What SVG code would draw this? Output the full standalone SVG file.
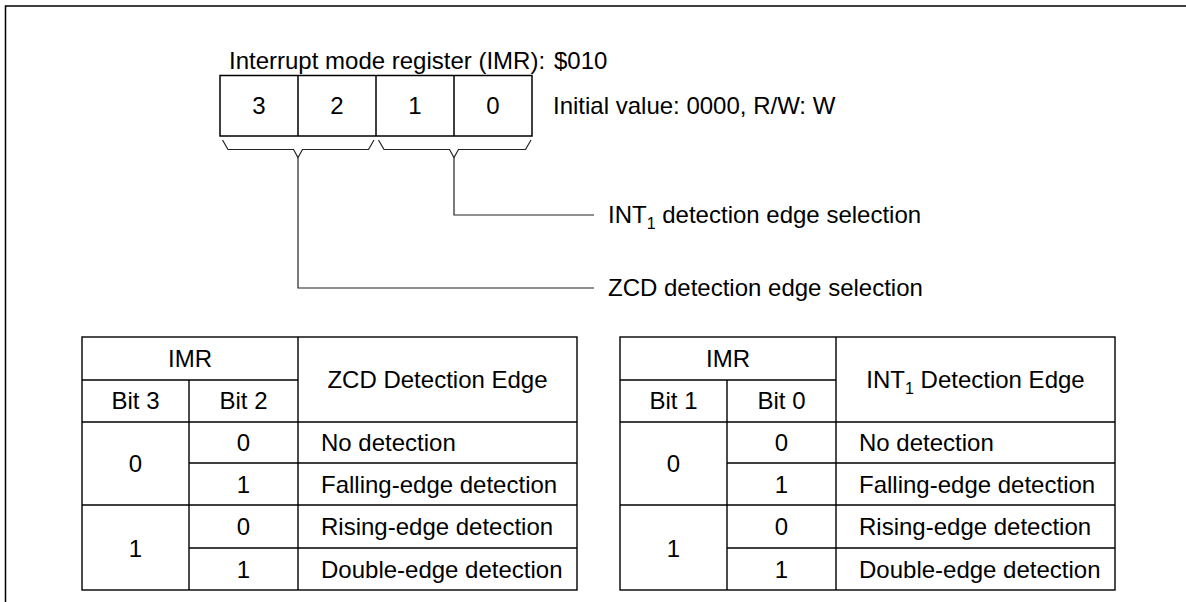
<svg xmlns="http://www.w3.org/2000/svg" width="1186" height="602" viewBox="0 0 1186 602">
<style>
text{font-family:"Liberation Sans",Arial,sans-serif;font-size:24px;fill:#000}
.c{text-anchor:middle}
.ln{fill:none;stroke:#000;stroke-width:1.5}
.tl{fill:none;stroke:#000;stroke-width:1.4}
.th{fill:none;stroke:#222;stroke-width:1.2}
.sub{font-size:16px}
</style>
<rect width="1186" height="602" fill="#fff"/>
<g id="frame"><path class="ln" d="M5.5,602 V6 H1186"/></g>
<g id="register">
<text x="229" y="68.5">Interrupt mode register (IMR):</text>
<text x="554" y="68.5">$010</text>
<rect class="ln" x="220" y="75.5" width="312" height="60.5"/>
<path class="ln" d="M298,75.5 V136 M376,75.5 V136 M454,75.5 V136"/>
<text class="c" x="259" y="114">3</text>
<text class="c" x="337" y="114">2</text>
<text class="c" x="415" y="114">1</text>
<text class="c" x="493" y="114">0</text>
<text x="553" y="114">Initial value: 0000, R/W: W</text>
</g>
<g id="braces">
<path class="th" d="M222.5,140 L228,149.5 H293.5 L298,157.5 L302.5,149.5 H368.5 L374,140"/>
<path class="th" d="M378.5,140 L384,149.5 H449.5 L454,157.5 L458.5,149.5 H525.5 L531,140"/>
</g>
<g id="connectors">
<path class="th" d="M454,157.5 V215 H594"/>
<path class="th" d="M298,157.5 V288 H594"/>
</g>
<g id="label-int1"><text x="608" y="223">INT<tspan class="sub" dy="6">1</tspan><tspan dy="-6"> detection edge selection</tspan></text></g>
<g id="label-zcd"><text x="608" y="296">ZCD detection edge selection</text></g>
<g id="table-zcd">
<rect class="tl" x="82" y="337" width="495" height="253"/>
<path class="tl" d="M298,337 V590 M82,380 H298 M189,380 V590 M82,422 H577 M189,463 H577 M82,505 H577 M189,548 H577"/>
<text class="c" x="190" y="367">IMR</text>
<text class="c" x="437.5" y="388">ZCD Detection Edge</text>
<text class="c" x="135.5" y="409">Bit 3</text>
<text class="c" x="243.5" y="409">Bit 2</text>
<text class="c" x="135.5" y="472">0</text>
<text class="c" x="135.5" y="557">1</text>
<text class="c" x="243.5" y="451">0</text>
<text class="c" x="243.5" y="493">1</text>
<text class="c" x="243.5" y="535">0</text>
<text class="c" x="243.5" y="578">1</text>
<text x="321" y="451">No detection</text>
<text x="321" y="493">Falling-edge detection</text>
<text x="321" y="535">Rising-edge detection</text>
<text x="321" y="578">Double-edge detection</text>
</g>
<g id="table-int1">
<rect class="tl" x="620" y="337" width="495" height="253"/>
<path class="tl" d="M836,337 V590 M620,380 H836 M727,380 V590 M620,422 H1115 M727,463 H1115 M620,505 H1115 M727,548 H1115"/>
<text class="c" x="728" y="367">IMR</text>
<text class="c" x="975.5" y="388">INT<tspan class="sub" dy="6">1</tspan><tspan dy="-6"> Detection Edge</tspan></text>
<text class="c" x="673.5" y="409">Bit 1</text>
<text class="c" x="781.5" y="409">Bit 0</text>
<text class="c" x="673.5" y="472">0</text>
<text class="c" x="673.5" y="557">1</text>
<text class="c" x="781.5" y="451">0</text>
<text class="c" x="781.5" y="493">1</text>
<text class="c" x="781.5" y="535">0</text>
<text class="c" x="781.5" y="578">1</text>
<text x="859" y="451">No detection</text>
<text x="859" y="493">Falling-edge detection</text>
<text x="859" y="535">Rising-edge detection</text>
<text x="859" y="578">Double-edge detection</text>
</g>
</svg>
